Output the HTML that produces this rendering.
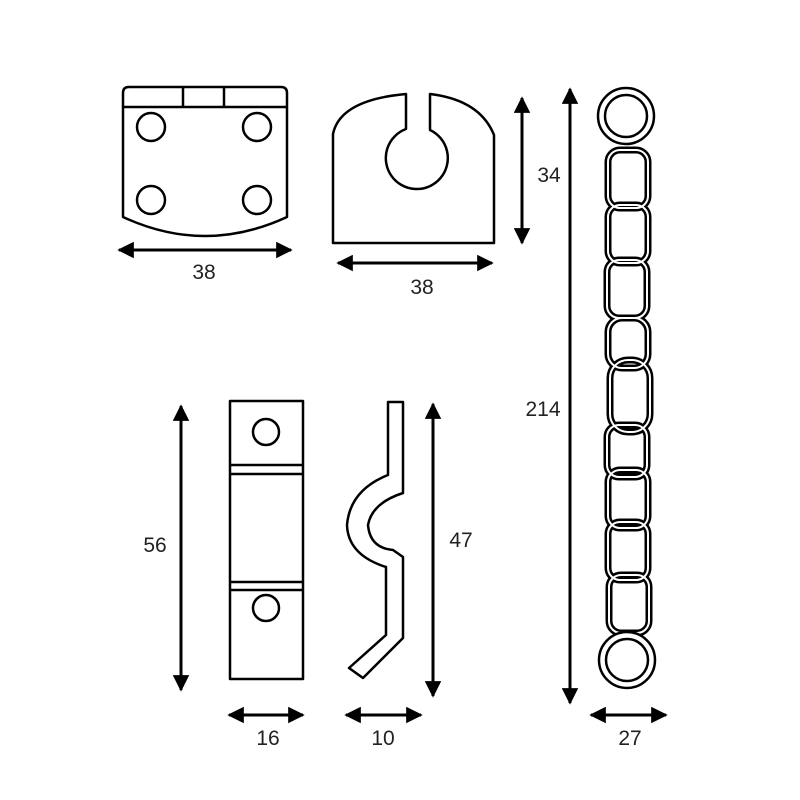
<!DOCTYPE html>
<html><head><style>body{margin:0;background:#fff}svg{display:block}text{font-family:"Liberation Sans",sans-serif;font-size:21px;fill:#222;text-anchor:middle}</style></head><body>
<svg width="800" height="800" viewBox="0 0 800 800" xmlns="http://www.w3.org/2000/svg">
<defs>
<marker id="a" viewBox="0 0 10 10" refX="9" refY="5" markerWidth="5.5" markerHeight="5.5" orient="auto-start-reverse" markerUnits="strokeWidth"><path d="M0,0 L10,5 L0,10z" fill="#000"/></marker>
</defs>
<g fill="none" stroke="#000" stroke-width="2.5" stroke-linejoin="round">
<path d="M123,217 L123,93 Q123,87 129,87 L281,87 Q287,87 287,93 L287,217 Q205,255 123,217Z"/>
<line x1="123" y1="107" x2="287" y2="107"/>
<line x1="183" y1="87" x2="183" y2="107"/><line x1="224" y1="87" x2="224" y2="107"/>
<circle cx="151" cy="127" r="14"/><circle cx="257" cy="127" r="14"/>
<circle cx="151" cy="200" r="14"/><circle cx="257" cy="200" r="14"/>
<path d="M333,243 L333,134 Q340,100 406,94 L406,129 A31,31 0 1 0 430,130 L430,94 Q480,100 494,135 L494,243Z"/>
<rect x="230" y="401" width="73" height="278"/>
<circle cx="266" cy="432" r="13"/><circle cx="266" cy="608" r="13"/>
<line x1="230" y1="465" x2="303" y2="465"/><line x1="230" y1="474" x2="303" y2="474"/>
<line x1="230" y1="582" x2="303" y2="582"/><line x1="230" y1="590" x2="303" y2="590"/>
<path d="M388,402 L403,402 L403,493 Q372,503 368,525 Q370,548 393,550 L403,557 L403,638 L363,678 L349,668 L386,635 L386,567 Q348,555 347,525 Q350,490 388,475Z"/>
<g stroke-width="7">
<rect x="608" y="150" width="40" height="58" rx="12"/>
<rect x="608" y="205" width="40" height="58" rx="12"/>
<rect x="607" y="260" width="40" height="58" rx="12"/>
<rect x="608" y="318" width="40" height="50" rx="14"/>
<rect x="610" y="360" width="40" height="72" rx="18"/>
<rect x="607" y="425" width="40" height="52" rx="12"/>
<rect x="608" y="470" width="40" height="58" rx="12"/>
<rect x="608" y="522" width="40" height="58" rx="12"/>
<rect x="609" y="575" width="40" height="58" rx="12"/></g>
<g stroke="#fff" stroke-width="2">
<rect x="608" y="150" width="40" height="58" rx="12"/>
<rect x="608" y="205" width="40" height="58" rx="12"/>
<rect x="607" y="260" width="40" height="58" rx="12"/>
<rect x="608" y="318" width="40" height="50" rx="14"/>
<rect x="610" y="360" width="40" height="72" rx="18"/>
<rect x="607" y="425" width="40" height="52" rx="12"/>
<rect x="608" y="470" width="40" height="58" rx="12"/>
<rect x="608" y="522" width="40" height="58" rx="12"/>
<rect x="609" y="575" width="40" height="58" rx="12"/></g>
<circle cx="626" cy="116" r="28" fill="#fff"/><circle cx="626" cy="116" r="21"/>
<circle cx="627" cy="660" r="28" fill="#fff"/><circle cx="627" cy="660" r="21"/>
</g>
<g stroke="#000" stroke-width="3" marker-start="url(#a)" marker-end="url(#a)">
<line x1="119" y1="250" x2="291" y2="250"/>
<line x1="338" y1="263" x2="492" y2="263"/>
<line x1="522" y1="98" x2="522" y2="243"/>
<line x1="570" y1="89" x2="570" y2="703"/>
<line x1="591" y1="715" x2="666" y2="715"/>
<line x1="181" y1="406" x2="181" y2="690"/>
<line x1="229" y1="715" x2="303" y2="715"/>
<line x1="433" y1="404" x2="433" y2="696"/>
<line x1="346" y1="715" x2="421" y2="715"/>
</g>
<text x="204" y="279">38</text>
<text x="422" y="294">38</text>
<text x="549" y="182">34</text>
<text x="543" y="416">214</text>
<text x="630" y="745">27</text>
<text x="155" y="552">56</text>
<text x="268" y="745">16</text>
<text x="461" y="547">47</text>
<text x="383" y="745">10</text>
</svg>
</body></html>
